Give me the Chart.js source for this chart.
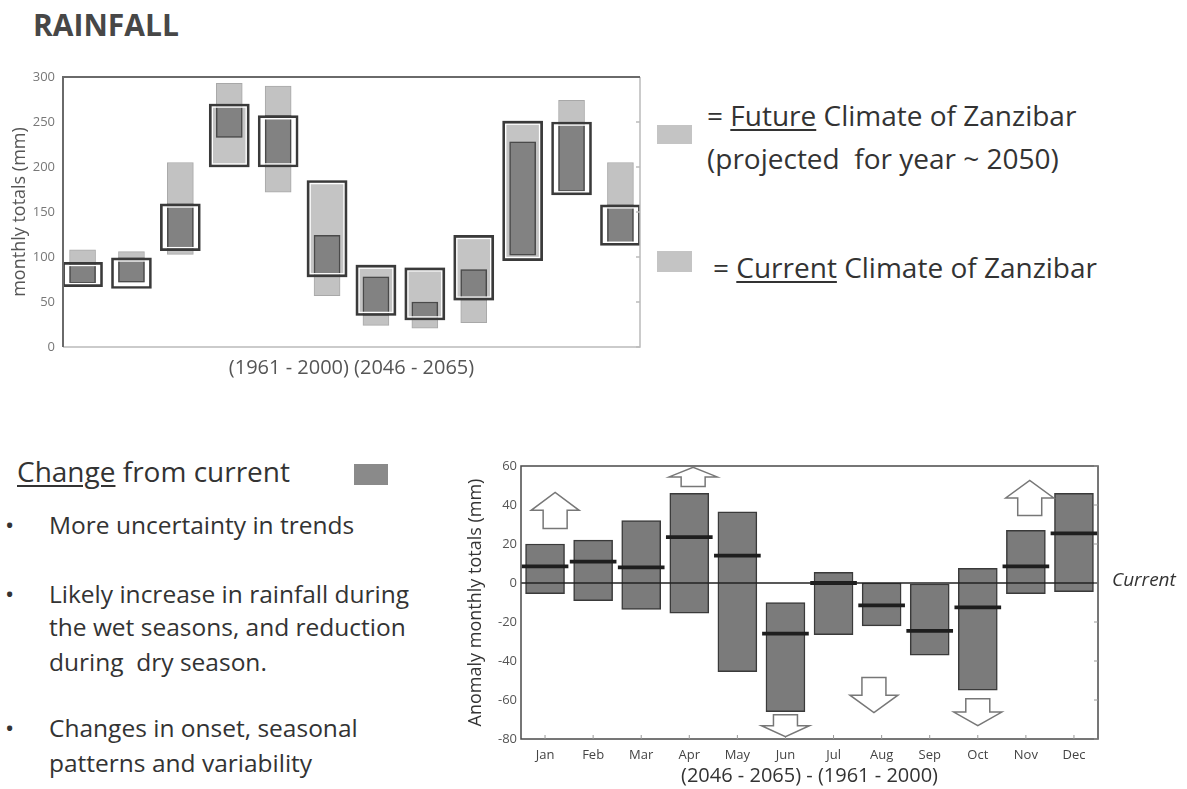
<!DOCTYPE html>
<html>
<head>
<meta charset="utf-8">
<script src="https://cdn.jsdelivr.net/npm/chart.js@4.4.0/dist/chart.umd.min.js"></script>
<style>
  body { margin: 0; width: 1187px; height: 789px; background: #fff; position: relative; overflow: hidden;
         font-family: 'Open Sans', sans-serif; color: #333; }
  .t { position: absolute; white-space: nowrap; line-height: 1; }
  .sq { position: absolute; }
  canvas { position: absolute; }
  u { text-decoration-thickness: 2px; text-underline-offset: 3px; }
</style>
</head>
<body>

<div class="t" style="left:33px;top:10px;font-size:30px;font-weight:700;color:#474747">RAINFALL</div>

<canvas id="rainChart" width="650" height="320" style="left:0;top:60px"></canvas>

<div class="sq" style="left:657px;top:125px;width:35px;height:19px;background:#c4c4c4"></div>
<div class="t" style="left:707px;top:101px;font-size:28px">= <u>Future</u> Climate of Zanzibar</div>
<div class="t" style="left:707px;top:144px;font-size:28px">(projected&nbsp; for year ~ 2050)</div>
<div class="sq" style="left:657px;top:251px;width:35px;height:21px;background:#c4c4c4"></div>
<div class="t" style="left:713px;top:253px;font-size:28px">= <u>Current</u> Climate of Zanzibar</div>

<div class="t" style="left:17px;top:457px;font-size:28px"><u>Change</u> from current</div>
<div class="sq" style="left:354px;top:464px;width:34px;height:21px;background:#8a8a8a"></div>

<div class="t" style="left:5px;top:513px;font-size:24.5px">•</div>
<div class="t" style="left:49px;top:513px;font-size:24.5px">More uncertainty in trends</div>
<div class="t" style="left:5px;top:582px;font-size:24.5px">•</div>
<div class="t" style="left:49px;top:582px;font-size:24.5px">Likely increase in rainfall during</div>
<div class="t" style="left:49px;top:615px;font-size:24.5px">the wet seasons, and reduction</div>
<div class="t" style="left:49px;top:650px;font-size:24.5px">during&nbsp; dry season.</div>
<div class="t" style="left:5px;top:716px;font-size:24.5px">•</div>
<div class="t" style="left:49px;top:716px;font-size:24.5px">Changes in onset, seasonal</div>
<div class="t" style="left:49px;top:751px;font-size:24.5px">patterns and variability</div>

<canvas id="anomChart" width="747" height="339" style="left:440px;top:450px"></canvas>

<script>
// monthly totals (mm): box ranges per month
const months = ['Jan', 'Feb', 'Mar', 'Apr', 'May', 'Jun', 'Jul', 'Aug', 'Sep', 'Oct', 'Nov', 'Dec'];
const currentLow  = [67, 65, 107, 200, 200, 78, 35, 30, 52, 96, 169, 113];
const currentHigh = [94, 99, 159, 270, 257, 185, 91, 88, 124, 251, 250, 158];
const futureLow   = [71, 72, 103, 233, 172, 57, 24, 21, 27, 102, 173, 115];
const futureHigh  = [108, 106, 205, 293, 290, 124, 78, 50, 86, 228, 274, 205];
const rainTicks = [0, 50, 100, 150, 200, 250, 300];

// anomaly (mm): (2046-2065) - (1961-2000)
const anomLow    = [-5.5, -9, -13.5, -15.5, -45.5, -66, -26.5, -22, -37, -55, -5.5, -4.5];
const anomHigh   = [20, 22, 32, 46, 36.5, -10, 5.5, 0, -0.5, 7.5, 27, 46];
const anomMedian = [8.5, 11, 8, 23.5, 14, -26, 0, -11.5, -24.5, -12.5, 8.5, 25.5];
const anomTicks = [-80, -60, -40, -20, 0, 20, 40, 60];

// trend arrows (month position, from value, to value)
const arrowAt   = [0.21, 3.08, 5, 6.84, 9, 10.08];
const arrowFrom = [28, 49.5, -67.5, -48.5, -59.3, 34.6];
const arrowTo   = [46.5, 59.3, -78.8, -66.5, -73.1, 52.6];

Chart.defaults.font.family = "'Open Sans', sans-serif";
Chart.defaults.animation = false;

// months where the wider box is shaded rather than open
const wideShaded = [false, false, false, true, false, true, true, true, true, true, false, false];

const xy = (lo, hi) => lo.map((v, i) => ({ x: i + 1, y: [v, hi[i]] }));
const overlap = currentLow.map((v, i) => ({
    x: i + 1,
    y: [Math.max(v, futureLow[i]), Math.min(currentHigh[i], futureHigh[i])]
}));

const rainFrame = {
    id: 'rainFrame',
    // white inner line of the wide boxes, drawn just before their dark outline
    afterDatasetDraw(chart, args) {
        if (args.index !== 2) return;
        const { ctx } = chart;
        const meta = chart.getDatasetMeta(3);
        ctx.save();
        ctx.strokeStyle = '#ffffff';
        ctx.lineWidth = 1.5;
        meta.data.forEach(bar => {
            const { x, y, base, width } = bar.getProps(['x', 'y', 'base', 'width'], true);
            const top = Math.min(y, base), h = Math.abs(base - y);
            ctx.strokeRect(x - width / 2 + 3, top + 3, width - 6, h - 6);
        });
        ctx.restore();
    },
    afterDraw(chart) {
        const { ctx, chartArea: a, scales } = chart;
        ctx.save();
        ctx.lineWidth = 1.5;
        ctx.strokeStyle = '#bbb';
        ctx.beginPath();
        ctx.moveTo(a.right, a.top); ctx.lineTo(a.right, a.bottom); ctx.lineTo(a.left, a.bottom);
        ctx.stroke();
        rainTicks.forEach(t => {
            const y = scales.y.getPixelForValue(t);
            ctx.beginPath(); ctx.moveTo(a.right, y); ctx.lineTo(a.right - 4, y); ctx.stroke();
        });
        ctx.lineWidth = 2;
        ctx.strokeStyle = '#6a6a6a';
        ctx.beginPath();
        ctx.moveTo(a.left, a.bottom); ctx.lineTo(a.left, a.top); ctx.lineTo(a.right, a.top);
        ctx.stroke();
        ctx.restore();
    }
};

new Chart(document.getElementById('rainChart'), {
    type: 'bar',
    data: {
        datasets: [{
            label: 'Current (1961 - 2000)',
            data: xy(currentLow, currentHigh),
            backgroundColor: ctx => wideShaded[ctx.dataIndex] ? '#c4c4c4' : '#ffffff',
            borderWidth: 0,
            barThickness: 40,
            grouped: false,
            order: 4
        }, {
            label: 'Future (2046 - 2065)',
            data: xy(futureLow, futureHigh),
            backgroundColor: '#c2c2c2',
            borderColor: '#a8a8a8',
            borderWidth: 1,
            borderSkipped: false,
            barThickness: 26,
            grouped: false,
            order: 3
        }, {
            label: 'Overlap',
            data: overlap,
            backgroundColor: '#828282',
            borderColor: '#4a4a4a',
            borderWidth: 1.5,
            borderSkipped: false,
            barThickness: 26,
            grouped: false,
            order: 2
        }, {
            label: 'Current outline',
            data: xy(currentLow, currentHigh),
            backgroundColor: 'rgba(0,0,0,0)',
            borderColor: '#3a3a3a',
            borderWidth: 2,
            borderSkipped: false,
            barThickness: 40,
            grouped: false,
            order: 1
        }]
    },
    options: {
        responsive: false,
        layout: { padding: { top: 17, right: 10, left: 0, bottom: 0 } },
        plugins: { legend: { display: false }, tooltip: { enabled: false } },
        scales: {
            x: {
                type: 'linear', min: 0.6, max: 12.4, offset: false,
                grid: { display: false, drawTicks: false }, border: { display: false },
                ticks: { display: false },
                title: { display: true, text: '(1961 - 2000) (2046 - 2065)', color: '#555',
                         font: { size: 20 }, padding: { top: 0, bottom: 0 } },
                afterFit: s => { s.height = 33; }
            },
            y: {
                min: 0, max: 300,
                afterBuildTicks: s => { s.ticks = rainTicks.map(v => ({ value: v })); },
                grid: { display: false, drawTicks: false }, border: { display: false },
                ticks: { color: '#777', font: { size: 13 }, padding: 8 },
                title: { display: true, text: 'monthly totals (mm)', color: '#555',
                         font: { size: 18 }, padding: { top: 9, bottom: 0 } },
                afterFit: s => { s.width = 63; }
            }
        }
    },
    plugins: [rainFrame]
});

const anomExtras = {
    id: 'anomExtras',
    afterDatasetsDraw(chart) {
        const { ctx, chartArea: a, scales } = chart;
        const y0 = scales.y.getPixelForValue(0);
        ctx.save();
        // "current" reference line
        ctx.strokeStyle = '#222';
        ctx.lineWidth = 1.5;
        ctx.beginPath(); ctx.moveTo(a.left, y0); ctx.lineTo(a.right, y0); ctx.stroke();
        ctx.fillStyle = '#333';
        ctx.font = "italic 19px 'Open Sans', sans-serif";
        ctx.textBaseline = 'middle';
        ctx.fillText('Current', a.right + 14, y0 - 2);

        // frame and inner ticks
        ctx.strokeStyle = '#4a4a4a';
        ctx.lineWidth = 1.5;
        ctx.strokeRect(a.left, a.top, a.right - a.left, a.bottom - a.top);
        ctx.strokeStyle = '#999';
        ctx.lineWidth = 1;
        anomTicks.forEach(t => {
            const y = scales.y.getPixelForValue(t);
            ctx.beginPath(); ctx.moveTo(a.right, y); ctx.lineTo(a.right - 4, y); ctx.stroke();
        });
        months.forEach((m, i) => {
            const x = scales.x.getPixelForValue(i);
            ctx.beginPath(); ctx.moveTo(x, a.bottom); ctx.lineTo(x, a.bottom - 4); ctx.stroke();
        });

        // hollow trend arrows
        ctx.fillStyle = '#fff';
        ctx.strokeStyle = '#777';
        ctx.lineWidth = 1.5;
        arrowAt.forEach((pos, i) => {
            const cx = scales.x.getPixelForValue(pos);
            const yb = scales.y.getPixelForValue(arrowFrom[i]);
            const yt = scales.y.getPixelForValue(arrowTo[i]);
            const w = 48, sw = 24;
            const yn = yb + (yt - yb) * 0.5;
            ctx.beginPath();
            ctx.moveTo(cx - sw / 2, yb);
            ctx.lineTo(cx - sw / 2, yn);
            ctx.lineTo(cx - w / 2, yn);
            ctx.lineTo(cx, yt);
            ctx.lineTo(cx + w / 2, yn);
            ctx.lineTo(cx + sw / 2, yn);
            ctx.lineTo(cx + sw / 2, yb);
            ctx.closePath();
            ctx.fill();
            ctx.stroke();
        });
        ctx.restore();
    }
};

new Chart(document.getElementById('anomChart'), {
    type: 'bar',
    data: {
        labels: months,
        datasets: [{
            label: 'Median change',
            data: anomMedian.map(m => [m - 0.8, m + 0.8]),
            backgroundColor: '#1e1e1e',
            borderWidth: 0,
            barThickness: 46,
            grouped: false,
            order: 1
        }, {
            label: 'Change range',
            data: anomLow.map((v, i) => [v, anomHigh[i]]),
            backgroundColor: '#7b7b7b',
            borderColor: '#3a3a3a',
            borderWidth: 1.5,
            borderSkipped: false,
            barThickness: 39,
            grouped: false,
            order: 2
        }]
    },
    options: {
        responsive: false,
        layout: { padding: { top: 16, right: 89, left: 0, bottom: 0 } },
        plugins: { legend: { display: false }, tooltip: { enabled: false } },
        scales: {
            x: {
                grid: { display: false, drawTicks: false }, border: { display: false },
                ticks: { color: '#444', font: { size: 13 }, padding: 8 },
                title: { display: true, text: '(2046 - 2065) - (1961 - 2000)', color: '#333',
                         font: { size: 20 }, padding: { top: 0, bottom: 1 } },
                afterFit: s => { s.height = 50; }
            },
            y: {
                min: -80, max: 60,
                afterBuildTicks: s => { s.ticks = anomTicks.map(v => ({ value: v })); },
                grid: { display: false, drawTicks: false }, border: { display: false },
                ticks: { color: '#555', font: { size: 13 }, padding: 4 },
                title: { display: true, text: 'Anomaly monthly totals (mm)', color: '#333',
                         font: { size: 18 }, padding: { top: 25, bottom: 0 } },
                afterFit: s => { s.width = 81; }
            }
        }
    },
    plugins: [anomExtras]
});
</script>
</body>
</html>
